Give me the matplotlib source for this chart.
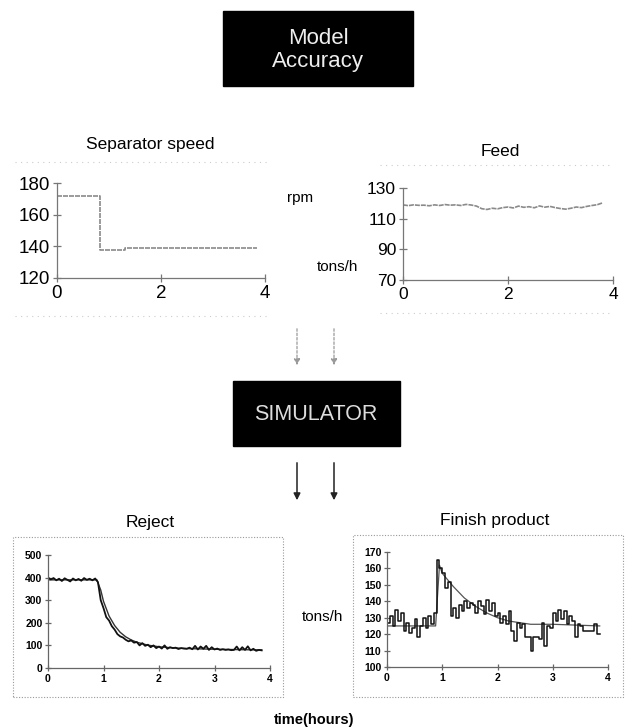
import numpy as np
import matplotlib
matplotlib.use("Agg")
import matplotlib.pyplot as plt
from matplotlib.patches import Rectangle, FancyArrowPatch

plt.rcParams['font.family'] = ['Liberation Sans', 'DejaVu Sans']

W, H = 625, 728

# ---- data ----
sep_t = [0, 0.83, 0.83, 1.3, 1.3, 3.85]
sep_v = [172, 172, 138, 138, 139, 139]

feed_v = [119, 118.5, 119, 118.7, 118.8, 118.4, 119, 118.6, 119.2, 118.8,
          119, 118.6, 119.3, 118.9, 118.2, 116.5, 116, 116.8, 116.4, 117.2,
          117.6, 117, 118.2, 117.4, 117.8, 117.1, 118.3, 117.5, 118, 117.2,
          116.6, 116.2, 116.8, 117.6, 117.2, 118, 118.6, 119.1, 120.3]

reject_meas = [400, 392, 398, 388, 395, 385, 397, 390, 383, 396,
               388, 394, 386, 398, 390, 395, 388, 396, 380, 300,
               265, 225, 210, 185, 170, 150, 140, 135, 125, 118,
               122, 112, 115, 100, 110, 98, 103, 92, 100, 88,
               95, 86, 100, 85, 92, 88, 90, 84, 88, 86,
               85, 90, 83, 98, 82, 95, 85, 98, 80, 92,
               82, 86, 80, 83, 80, 82, 79, 80, 95, 78,
               92, 80, 96, 78, 85, 76, 80, 78]
reject_sim_t = [0, 0.88, 0.95, 1.0, 1.1, 1.2, 1.3, 1.4, 1.5, 1.6, 1.8,
                2.0, 2.2, 2.5, 3.0, 3.5, 3.85]
reject_sim_v = [390, 390, 345, 295, 230, 188, 158, 138, 124, 114, 101,
                94, 90, 86, 83, 81, 80]

finish_meas = [127, 131, 125, 135, 128, 133, 122, 127, 121, 124,
               129, 118, 125, 130, 124, 131, 126, 133, 165, 160,
               157, 148, 152, 131, 136, 130, 138, 134, 140, 136,
               139, 138, 133, 140, 137, 132, 141, 134, 139, 131,
               133, 127, 131, 126, 134, 122, 116, 127, 124, 126,
               118, 118, 110, 118, 118, 117, 127, 113, 125, 124,
               133, 128, 135, 129, 134, 126, 131, 128, 118, 126,
               125, 122, 122, 122, 122, 126, 120, 120]
finish_sim_t = [0, 0.88, 0.95, 1.0, 1.2, 1.4, 1.6, 1.8, 2.0, 2.2, 2.4, 2.6,
                3.0, 3.85]
finish_sim_v = [125, 125, 162, 157, 149, 142, 137, 133, 130, 128, 127, 126,
                126, 125]


def box(x0, y0, x1, y1):
    """pixel box (top-left origin) -> figure rect"""
    return [x0 / W, 1 - y1 / H, (x1 - x0) / W, (y1 - y0) / H]


def fx(x):
    return x / W


def fy(y):
    return 1 - y / H


def style_axes(ax, col, tick_size, tick_weight):
    for s in ['top', 'right']:
        ax.spines[s].set_visible(False)
    for s in ['left', 'bottom']:
        ax.spines[s].set_color(col)
        ax.spines[s].set_linewidth(0.9)
    ax.tick_params(direction='inout', length=6, width=0.9, color=col, pad=2)
    for lab in ax.get_xticklabels() + ax.get_yticklabels():
        lab.set_fontsize(tick_size)
        lab.set_fontweight(tick_weight)
    ax.patch.set_alpha(0)


fig = plt.figure(figsize=(W / 100, H / 100), dpi=100)

# ---- black boxes ----
fig.patches.append(Rectangle((fx(223), fy(86)), fx(413) - fx(223), fy(11) - fy(86),
                             transform=fig.transFigure, color='black'))
fig.text(fx(318), fy(38), "Model", color='#eeeeee', ha='center', va='center', fontsize=16)
fig.text(fx(318), fy(62), "Accuracy", color='#eeeeee', ha='center', va='center', fontsize=16)

fig.patches.append(Rectangle((fx(233), fy(446)), fx(400) - fx(233), fy(381) - fy(446),
                             transform=fig.transFigure, color='black'))
fig.text(fx(316), fy(414), "SIMULATOR", color='#dddddd', ha='center', va='center',
         fontsize=15.5)

# ---- arrows ----
for x in [297, 334]:
    fig.patches.append(FancyArrowPatch((fx(x), fy(326)), (fx(x), fy(368)),
                                       transform=fig.transFigure, arrowstyle='-|>',
                                       mutation_scale=9, color='#999999',
                                       linestyle=(0, (2, 1.5)), lw=0.9))
    fig.patches.append(FancyArrowPatch((fx(x), fy(460)), (fx(x), fy(503)),
                                       transform=fig.transFigure, arrowstyle='-|>',
                                       mutation_scale=10, color='#222222', lw=1.1))

# ---- faint frame remnants around top charts ----
for (x0, x1, y) in [(15, 268, 162), (15, 268, 316), (380, 612, 165), (380, 612, 313)]:
    fig.add_artist(plt.Line2D([fx(x0), fx(x1)], [fy(y), fy(y)], transform=fig.transFigure,
                              color='#cccccc', lw=0.8, linestyle=(0, (1, 4))))

# ---- Separator speed ----
ax1 = fig.add_axes(box(57, 183, 265, 278))
ax1.plot(sep_t, sep_v, color='#8a8a8a', lw=1.2, linestyle=(0, (3, 0.6)))
ax1.set_xlim(0, 4)
ax1.set_ylim(120, 180)
ax1.set_xticks([0, 2, 4])
ax1.set_yticks([120, 140, 160, 180])
style_axes(ax1, '#777777', 13.5, 'normal')
fig.text(fx(150), fy(145), "Separator speed", ha='center', va='center', fontsize=12.5)

# ---- Feed ----
ax2 = fig.add_axes(box(403, 188, 613, 280))
feed_t = np.linspace(0, 3.8, len(feed_v))
ax2.plot(feed_t, feed_v, color='#8a8a8a', lw=1.2, linestyle=(0, (3, 0.6)))
ax2.set_xlim(0, 4)
ax2.set_ylim(70, 130)
ax2.set_xticks([0, 2, 4])
ax2.set_yticks([70, 90, 110, 130])
style_axes(ax2, '#777777', 12.5, 'normal')
fig.text(fx(500), fy(152), "Feed", ha='center', va='center', fontsize=12.5)

fig.text(fx(300), fy(198), "rpm", ha='center', va='center', fontsize=11)
fig.text(fx(338), fy(267), "tons/h", ha='center', va='center', fontsize=11)

# ---- dotted frames of the bottom charts ----
for (x0, y0, x1, y1) in [(13, 537, 283, 697), (353, 535, 623, 697)]:
    fig.patches.append(Rectangle((fx(x0), fy(y1)), fx(x1) - fx(x0), fy(y0) - fy(y1),
                                 transform=fig.transFigure, fill=False,
                                 edgecolor='#999999', lw=0.8, linestyle=(0, (1, 1.5))))

# ---- Reject ----
ax3 = fig.add_axes(box(48, 555, 270, 668))
reject_t = np.linspace(0, 3.85, len(reject_meas))
ax3.plot(reject_sim_t, reject_sim_v, color='#333333', lw=1.0)
ax3.plot(reject_t, reject_meas, color='#111111', lw=1.3)
ax3.set_xlim(0, 4)
ax3.set_ylim(0, 500)
ax3.set_xticks([0, 1, 2, 3, 4])
ax3.set_yticks([0, 100, 200, 300, 400, 500])
style_axes(ax3, '#666666', 7.5, 'bold')
ax3.tick_params(length=4)
fig.text(fx(150), fy(523), "Reject", ha='center', va='center', fontsize=12.5)

# ---- Finish product ----
ax4 = fig.add_axes(box(387, 552, 608, 667))
finish_t = np.linspace(0, 3.85, len(finish_meas))
ax4.plot(finish_sim_t, finish_sim_v, color='#555555', lw=0.9)
ax4.step(finish_t, finish_meas, where='post', color='#111111', lw=1.1)
ax4.set_xlim(0, 4)
ax4.set_ylim(100, 170)
ax4.set_xticks([0, 1, 2, 3, 4])
ax4.set_yticks(list(range(100, 171, 10)))
style_axes(ax4, '#666666', 7.5, 'bold')
ax4.tick_params(length=4)
fig.text(fx(495), fy(520), "Finish product", ha='center', va='center', fontsize=12.5)

fig.text(fx(322), fy(617), "tons/h", ha='center', va='center', fontsize=11)
fig.text(fx(314), fy(720), "time(hours)", ha='center', va='center', fontsize=10.5,
         fontweight='bold')

fig.savefig("out.png", dpi=100)
